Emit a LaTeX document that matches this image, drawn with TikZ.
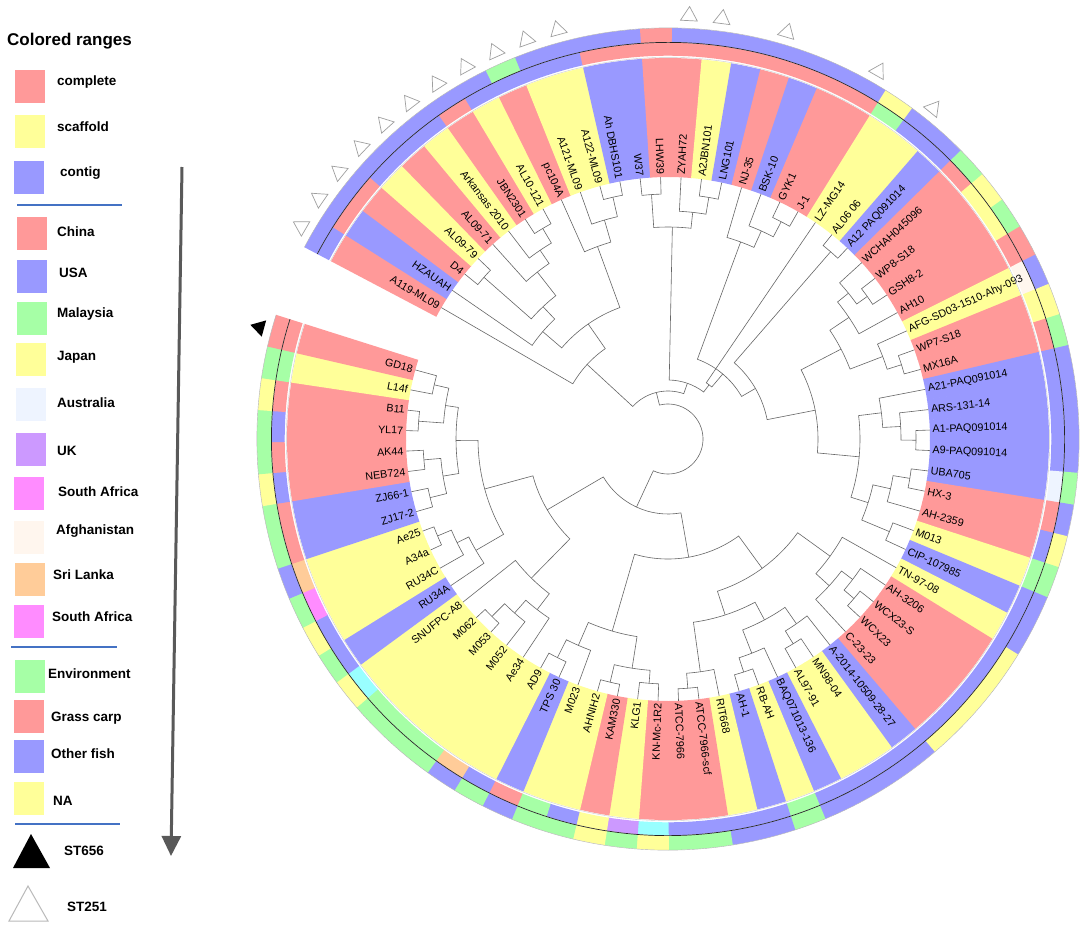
\documentclass[tikz,border=0pt]{standalone}
\usepackage{fontspec}
\setmainfont{Liberation Sans}
\usetikzlibrary{arrows.meta}
\definecolor{colP}{HTML}{FF9999}
\definecolor{colY}{HTML}{FFFF99}
\definecolor{colB}{HTML}{9999FF}
\definecolor{colG}{HTML}{A6FFA6}
\definecolor{colC}{HTML}{99FFFF}
\definecolor{colU}{HTML}{CC99FF}
\definecolor{colM}{HTML}{FF8CFF}
\definecolor{colO}{HTML}{FFCC99}
\definecolor{colAu}{HTML}{EEF4FF}
\definecolor{colAf}{HTML}{FFF6EE}
\definecolor{sepblue}{HTML}{4472C4}
\newcommand\setA[2]{\expandafter\xdef\csname trA#1\endcsname{#2}}
\newcommand\setR[2]{\expandafter\xdef\csname trR#1\endcsname{#2}}
\newcommand\getA[1]{\csname trA#1\endcsname}
\newcommand\getR[1]{\csname trR#1\endcsname}
\newcommand\tnode[4]{%
  \pgfmathsetmacro\tnA{\getA{#3}}%
  \pgfmathsetmacro\tnB{\getA{#4}}%
  \pgfmathsetmacro\tnRa{\getR{#3}}%
  \pgfmathsetmacro\tnRb{\getR{#4}}%
  \draw[branch] (\tnA:\tnRa) -- (\tnA:#2) arc[start angle=\tnA, end angle=\tnB, radius=#2] -- (\tnB:\tnRb);%
  \pgfmathsetmacro\tnM{(\tnA+\tnB)/2}%
  \setA{#1}{\tnM}\setR{#1}{#2}%
}
\begin{document}
\begin{tikzpicture}[x=1pt,y=1pt,
  branch/.style={draw=black!60, line width=0.6pt},
  lab/.style={font=\fontsize{10.8}{12}\selectfont, inner sep=0.6pt},
  legtxt/.style={font=\bfseries\fontsize{13.5}{16}\selectfont, anchor=west, inner sep=0pt},
  sw/.style={minimum width=31pt, minimum height=34pt, inner sep=0pt, draw=white, line width=0.6pt},
  sep/.style={draw=sepblue, line width=1.3pt},
  opentri/.style={draw=gray!75, line width=0.7pt, fill=white},
  blacktri/.style={fill=black}]
\useasboundingbox (0,0) rectangle (1084,-945);
\fill[white] (0,0) rectangle (1084,-945);

\begin{scope}[shift={(668,-439)}]
\foreach \i/\nm/\cb/\cm/\co in {
1/A119-ML09/P/B/B,
2/HZAUAH/B/P/B,
3/D4/P/P/B,
4/AL09-79/Y/B/B,
5/AL09-71/P/B/B,
6/Arkansas 2010/Y/B/B,
7/JBN2301/P/P/B,
8/AL10-121/Y/B/B,
9/pc104A/P/B/G,
10/A121-ML09/Y/B/B,
11/A122-ML09/Y/B/B,
12/Ah DBHS101/B/P/B,
13/W37/B/P/B,
14/LHW39/P/P/P,
15/ZYAH72/P/P/B,
16/A2JBN101/Y/P/B,
17/LNG101/B/P/B,
18/NJ-35/P/P/B,
19/BSK-10/B/P/B,
20/GYK1/P/P/B,
21/J-1/P/P/B,
22/LZ-MG14/Y/G/Y,
23/AL06 06/Y/B/B,
24/A12 PAQ091014/B/B/B,
25/WCHAH045096/P/P/G,
26/WP8-S18/P/Y/Y,
27/GSH8-2/P/Y/G,
28/AH10/P/P/P,
29/AFG-SD03-1510-Ahy-093/Y/Af/B,
30/WP7-S18/P/Y/Y,
31/MX16A/P/P/G,
32/A21-PAQ091014/B/B/B,
33/ARS-131-14/B/B/B,
34/A1-PAQ091014/B/B/B,
35/A9-PAQ091014/B/B/B,
36/UBA705/B/Au/G,
37/HX-3/P/P/B,
38/AH-2359/P/B/Y,
39/M013/Y/G/G,
40/CIP-107985/B/B/B,
41/TN-97-08/Y/B/B,
42/AH-3206/P/B/Y,
43/WCX23-S/P/B/Y,
44/WCX23/P/B/Y,
45/C-23-23/P/B/Y,
46/A-2014-10509-28-27/B/B/B,
47/MN98-04/Y/B/B,
48/AL97-91/Y/B/B,
49/BAQ071013-136/B/B/B,
50/RB-AH/Y/G/G,
51/AH-1/B/B/B,
52/RIT668/Y/B/B,
53/ATCC-7966-scf/P/B/G,
54/ATCC-7966/P/B/G,
55/KN-Mc-1R2/P/C/Y,
56/KLG1/Y/U/G,
57/KAM330/P/Y/Y,
58/AHNIH2/Y/B/G,
59/M023/Y/G/G,
60/TPS 30/B/P/B,
61/AD9/Y/B/G,
62/Ae34/Y/O/B,
63/M052/Y/G/G,
64/M053/Y/G/G,
65/M062/Y/G/G,
66/SNUFPC-A8/Y/C/Y,
67/RU34A/B/B/G,
68/RU34C/Y/B/Y,
69/A34a/Y/M/G,
70/Ae25/Y/O/B,
71/ZJ17-2/B/P/G,
72/ZJ66-1/B/P/G,
73/NEB724/P/B/Y,
74/AK44/P/P/G,
75/YL17/P/B/G,
76/B11/P/P/Y,
77/L14f/Y/G/G,
78/GD18/P/P/P}{
  \pgfmathsetmacro\th{149.9-(\i-1)*4.483}
  \pgfmathsetmacro\tha{\th+2.29}
  \pgfmathsetmacro\thb{\th-2.29}
  \fill[col\cb] (\tha:262) arc[start angle=\tha,end angle=\thb,radius=262] -- (\thb:381) arc[start angle=\thb,end angle=\tha,radius=381] -- cycle;
  \fill[col\cm] (\tha:383.3) arc[start angle=\tha,end angle=\thb,radius=383.3] -- (\thb:396.3) arc[start angle=\thb,end angle=\tha,radius=396.3] -- cycle;
  \fill[col\co] (\tha:396.8) arc[start angle=\tha,end angle=\thb,radius=396.8] -- (\thb:411) arc[start angle=\thb,end angle=\tha,radius=411] -- cycle;
  \setA{L\i}{\th}\setR{L\i}{262}
  \pgfmathparse{(\th>90||\th<-90)?1:0}
  \ifdim\pgfmathresult pt>0.5pt
    \node[lab,rotate=\th+180,anchor=east] (lab\i) at (\th:264) {\nm};
  \else
    \node[lab,rotate=\th,anchor=west] (lab\i) at (\th:264) {\nm};
  \fi
}
% ring separators
\draw[gray!40, line width=0.4pt] (152.19:381.6) arc[start angle=152.19, end angle=-197.58, radius=381.6];
\draw[black!85, line width=0.7pt] (152.19:396.55) arc[start angle=152.19, end angle=-197.58, radius=396.55];
\draw[gray!60, line width=0.4pt] (152.19:411.1) arc[start angle=152.19, end angle=-197.58, radius=411.1];

% tree
\tnode{a1}{245}{L3}{L4}
\tnode{a2}{245}{L7}{L8}
\tnode{a3}{228}{L6}{a2}
\tnode{a4}{212}{L5}{a3}
\tnode{a5}{182}{a1}{a4}
\tnode{a6}{165}{L2}{a5}
\tnode{a7}{248}{L11}{L12}
\tnode{a8}{228}{L10}{a7}
\tnode{a9}{205}{L9}{a8}
\tnode{a10}{140}{a6}{a9}
\tnode{a11}{110}{L1}{a10}
\tnode{b1}{245}{L13}{L14}
\tnode{b2}{245}{L16}{L17}
\tnode{b3}{228}{L15}{b2}
\tnode{b4}{212}{b1}{b3}
\tnode{c1}{245}{L20}{L21}
\tnode{c2}{228}{L19}{c1}
\tnode{c3}{210}{L18}{c2}
\tnode{d1}{248}{L23}{L24}
\tnode{e1}{245}{L26}{L27}
\tnode{e2}{232}{L25}{e1}
\tnode{e3}{218}{e2}{L28}
\tnode{e4}{245}{L30}{L31}
\tnode{e5}{230}{L29}{e4}
\tnode{e6}{195}{e3}{e5}
\tnode{f1}{248}{L34}{L35}
\tnode{f2}{233}{L33}{f1}
\tnode{f3}{215}{L32}{f2}
\tnode{f4}{245}{L36}{L37}
\tnode{f5}{228}{f4}{L38}
\tnode{f6}{240}{L39}{L40}
\tnode{f7}{210}{f5}{f6}
\tnode{f8}{192}{f3}{f7}
\tnode{g}{150}{e6}{f8}
\tnode{p5}{101}{d1}{g}
\tnode{p4}{85}{c3}{p5}
\tnode{p3}{68}{L22}{p4}
\tnode{p2}{59}{b4}{p3}
\tnode{p1}{48}{a11}{p2}
\tnode{h1}{245}{L43}{L44}
\tnode{h2}{232}{L42}{h1}
\tnode{h3}{218}{h2}{L45}
\tnode{h4}{200}{L41}{h3}
\tnode{i1}{240}{L47}{L48}
\tnode{i2}{225}{L46}{i1}
\tnode{i3}{245}{L50}{L51}
\tnode{i4}{230}{L49}{i3}
\tnode{i5}{205}{i2}{i4}
\tnode{i6}{250}{L53}{L54}
\tnode{i7}{235}{L52}{i6}
\tnode{i8}{185}{i5}{i7}
\tnode{hi}{160}{h4}{i8}
\tnode{j1}{245}{L55}{L56}
\tnode{j2}{250}{L57}{L58}
\tnode{j3}{232}{j1}{j2}
\tnode{j4}{245}{L60}{L61}
\tnode{j5}{225}{L59}{j4}
\tnode{j6}{200}{j3}{j5}
\tnode{q1}{120}{hi}{j6}
\tnode{k1}{250}{L64}{L65}
\tnode{k2}{232}{L63}{k1}
\tnode{k3}{215}{L62}{k2}
\tnode{k4}{195}{k3}{L66}
\tnode{l1}{250}{L69}{L70}
\tnode{l2}{235}{L68}{l1}
\tnode{l3}{222}{L67}{l2}
\tnode{m1}{240}{L77}{L78}
\tnode{m2}{250}{L75}{L76}
\tnode{m3}{225}{m2}{m1}
\tnode{m4}{245}{L73}{L74}
\tnode{m5}{245}{L71}{L72}
\tnode{m6}{228}{m5}{m4}
\tnode{m7}{212}{m6}{m3}
\tnode{m8}{190}{l3}{m7}
\tnode{q2}{140}{k4}{m8}
\tnode{q}{75}{q1}{q2}
\tnode{root}{35}{p1}{q}

% ST251 / ST656 markers
\foreach \i in {1,2,3,4,5,6,7,8,9,10,11,15,16,18,21,23}{
  \pgfmathsetmacro\th{149.9-(\i-1)*4.483}
  \draw[opentri] (\th:433) -- ({\th+1.15}:419) -- ({\th-1.15}:419) -- cycle;
}
\pgfmathsetmacro\th{149.9-77*4.483}
\fill[blacktri] (\th:433) -- ({\th+1.15}:419) -- ({\th-1.15}:419) -- cycle;
\end{scope}

% legend
\node[anchor=west, inner sep=0pt, font=\bfseries\fontsize{17}{20}\selectfont] (hd) at (7,-41) {Colored ranges};
\node[sw, fill=colP] (s1) at (29.5,-86.5) {};   \node[legtxt] (t1) at (57,-82) {complete};
\node[sw, fill=colY] (s2) at (29.5,-131.5) {};  \node[legtxt] (t2) at (57,-127) {scaffold};
\node[sw, fill=colB] (s3) at (29,-177) {};      \node[legtxt] (t3) at (60,-173) {contig};
\draw[sep] (17,-205) -- (122,-205);
\node[sw, fill=colP] (s4) at (32,-233.5) {};    \node[legtxt] (t4) at (57,-232) {China};
\node[sw, fill=colB] (s5) at (32,-276) {};      \node[legtxt] (t5) at (59,-273) {USA};
\node[sw, fill=colG] (s6) at (31.5,-318.5) {};  \node[legtxt] (t6) at (57,-314) {Malaysia};
\node[sw, fill=colY] (s7) at (31,-359.5) {};    \node[legtxt] (t7) at (57,-357) {Japan};
\node[sw, fill=colAu] (s8) at (31,-404) {};     \node[legtxt] (t8) at (57,-403) {Australia};
\node[sw, fill=colU] (s9) at (30.5,-449) {};    \node[legtxt] (t9) at (57,-451) {UK};
\node[sw, fill=colM] (s10) at (28.5,-493.5) {}; \node[legtxt] (t10) at (58,-492) {South Africa};
\node[sw, fill=colAf] (s11) at (29,-537) {};    \node[legtxt] (t11) at (56,-531) {Afghanistan};
\node[sw, fill=colO] (s12) at (29.5,-579) {};   \node[legtxt] (t12) at (53,-575) {Sri Lanka};
\node[sw, fill=colM] (s13) at (29,-621.5) {};   \node[legtxt] (t13) at (52,-617) {South Africa};
\draw[sep] (11,-647) -- (117,-647);
\node[sw, fill=colG] (s14) at (29.5,-676.5) {}; \node[legtxt] (t14) at (48,-674) {Environment};
\node[sw, fill=colP] (s15) at (29,-716.5) {};   \node[legtxt] (t15) at (51,-718) {Grass carp};
\node[sw, fill=colB] (s16) at (29,-756.5) {};   \node[legtxt] (t16) at (51,-754) {Other fish};
\node[sw, fill=colY] (s17) at (29,-798.5) {};   \node[legtxt] (t17) at (53,-801) {NA};
\draw[sep] (15,-824) -- (120,-824);
\fill[black] (31,-834) -- (50,-868) -- (13,-868) -- cycle;
\node[legtxt] (t18) at (64,-851) {ST656};
\draw[draw=gray!55, line width=1pt] (28,-886) -- (48,-921) -- (9,-921) -- cycle;
\node[legtxt] (t19) at (67,-907) {ST251};
\coordinate (arrTop) at (182,-167);
\coordinate (arrBot) at (171,-856);
\draw[line width=3pt, draw=black!65, -{Triangle[width=19pt,length=20pt]}] (arrTop) -- (arrBot);
\end{tikzpicture}
\end{document}
